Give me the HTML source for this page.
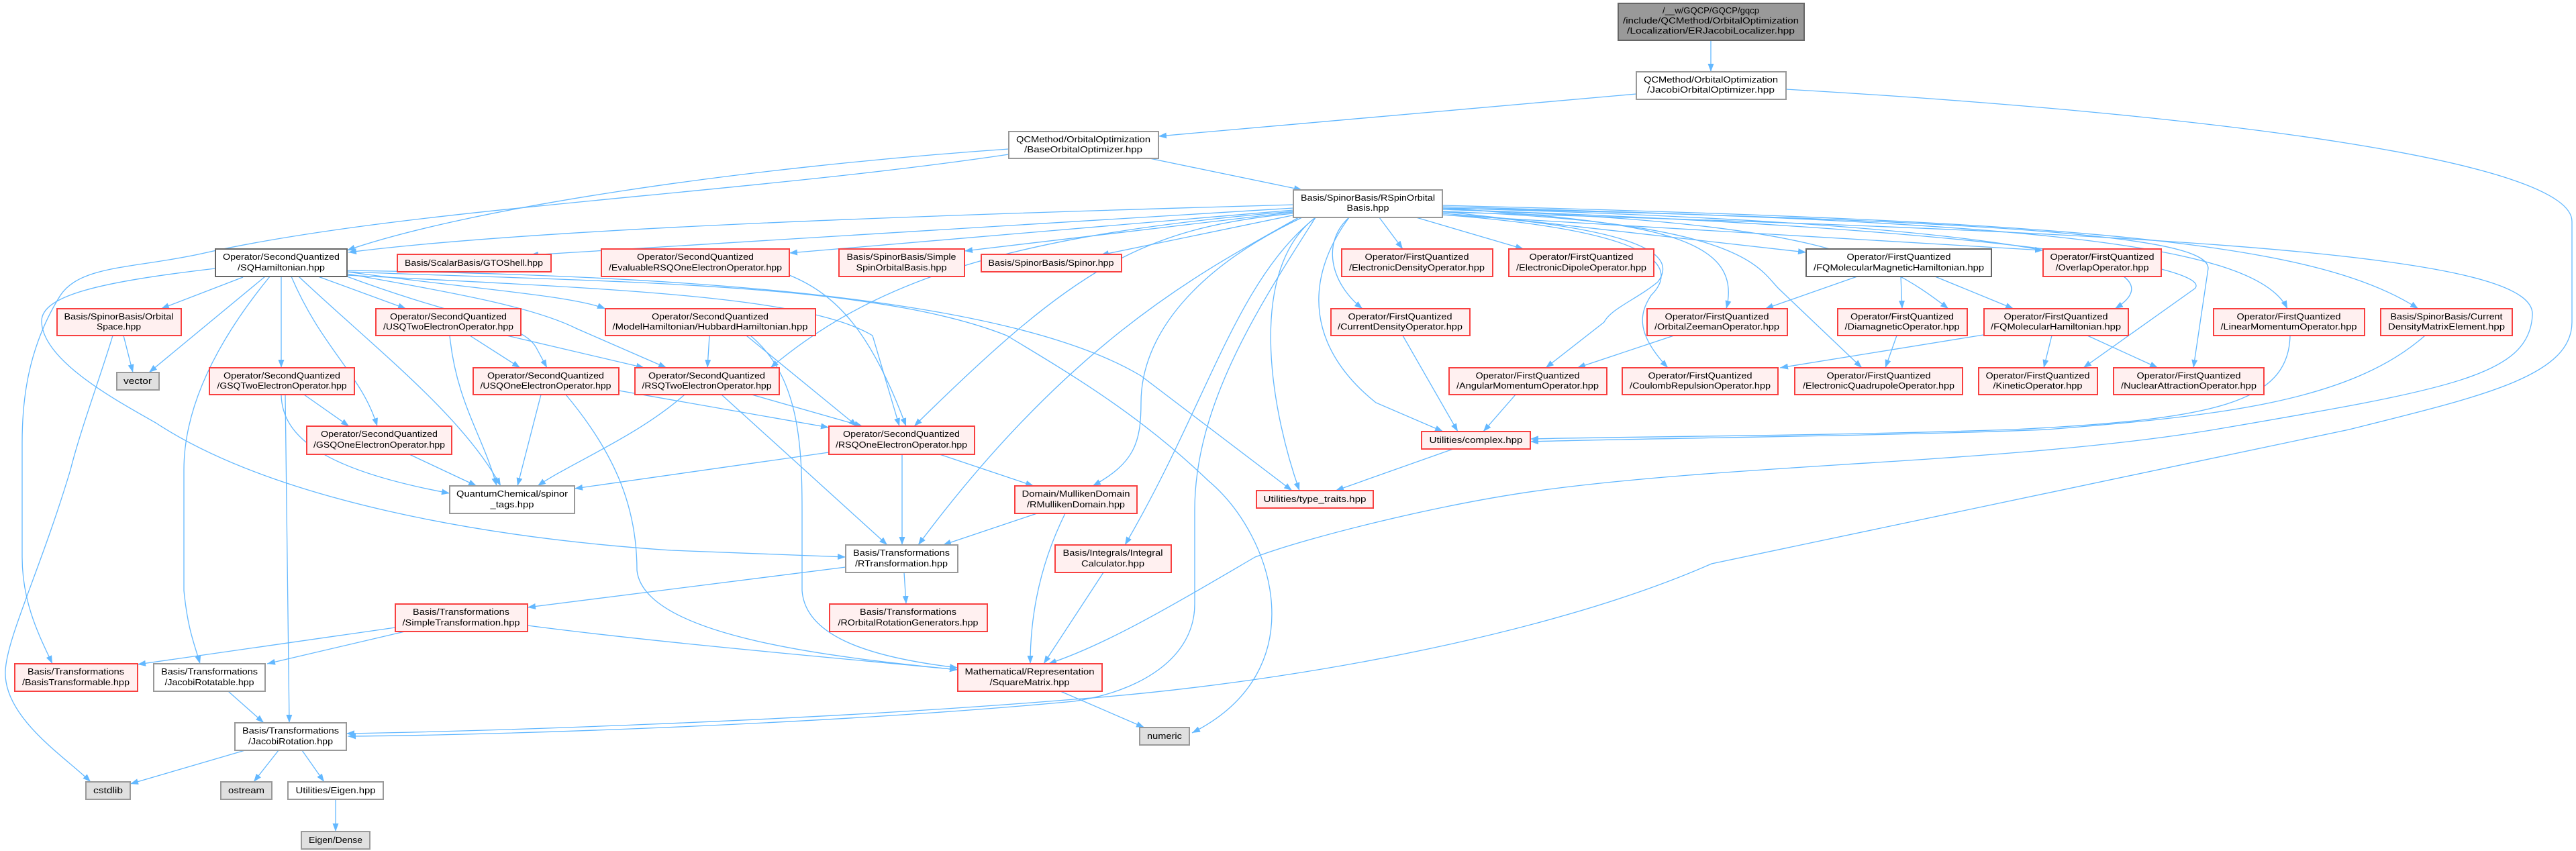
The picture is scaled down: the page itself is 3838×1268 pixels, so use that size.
<!DOCTYPE html>
<html><head><meta charset="utf-8"><style>
html,body{margin:0;padding:0;background:#fff;}
svg{display:block;}
text{font-family:"Liberation Sans",sans-serif;font-size:12.5px;fill:#000;text-anchor:middle;}
.e{fill:none;stroke:#63b8ff;stroke-width:1.3;marker-end:url(#a);}
.r{fill:#fff0f0;stroke:#f84040;stroke-width:2;}
.w{fill:#fff;stroke:#999;stroke-width:2;}
.g{fill:#fff;stroke:#666;stroke-width:2;}
.t{fill:#999;stroke:#666;stroke-width:2;}
.l{fill:#e0e0e0;stroke:#999;stroke-width:2;}
</style></head><body>
<svg width="3838" height="1268" viewBox="0 0 3838 1268" xmlns="http://www.w3.org/2000/svg">
<defs><marker id="a" markerUnits="userSpaceOnUse" markerWidth="13" markerHeight="10" refX="12" refY="4.5" orient="auto"><path d="M0,0 L12,4.5 L0,9 z" fill="#63b8ff"/></marker></defs>
<g>
<path class="e" d="M2549,60 L2549,107"/>
<path class="e" d="M2438,140 L1726,203"/>
<path class="e" d="M2661,133 C3300,170 3832,240 3832,330 L3832,480 C3832,560 3700,590 3500,640 L2550,840 C2300,950 1900,1020 1600,1042 C1200,1075 700,1090 516,1093"/>
<path class="e" d="M1713,236 L1940,283"/>
<path class="e" d="M1503,222 C1100,250 700,310 517,373"/>
<path class="e" d="M1503,230 C1100,290 600,310 300,378 C200,400 120,395 90,440 C40,520 33,600 33,660 L33,830 C33,900 60,950 78,989"/>
<path class="e" d="M1927,305 C1400,320 800,340 519,376"/>
<path class="e" d="M1927,310 L790,380"/>
<path class="e" d="M1927,313 L1176,377"/>
<path class="e" d="M1927,316 L1437,374"/>
<path class="e" d="M1930,320 L1640,380"/>
<path class="e" d="M2055,324 L2090,371"/>
<path class="e" d="M2110,324 L2270,371"/>
<path class="e" d="M2010,324 C1970,360 1980,420 2030,460"/>
<path class="e" d="M2149,315 L2691,376"/>
<path class="e" d="M2149,320 L3044,373"/>
<path class="e" d="M2149,310 C2450,330 2600,350 2572,460"/>
<path class="e" d="M2149,312 C2700,330 2800,380 2903,460"/>
<path class="e" d="M2149,310 C2900,330 3280,380 3151,460"/>
<path class="e" d="M2149,308 C3000,330 3360,360 3408,460"/>
<path class="e" d="M2149,306 C3100,330 3450,360 3603,460"/>
<path class="e" d="M2149,318 C2450,340 2500,380 2470,420 C2440,445 2400,460 2390,480 L2303,548"/>
<path class="e" d="M2149,320 C2480,345 2500,400 2460,440 C2440,470 2440,500 2485,548"/>
<path class="e" d="M2149,315 C2600,330 2620,400 2650,430 L2774,548"/>
<path class="e" d="M2149,312 C3000,340 3300,400 3270,430 L3104,548"/>
<path class="e" d="M2149,310 C3100,330 3290,360 3290,400 L3268,548"/>
<path class="e" d="M2010,324 C1940,420 1950,520 2050,600 L2150,643"/>
<path class="e" d="M1960,324 C1860,400 1890,600 1936,731"/>
<path class="e" d="M1940,324 C1780,400 1700,500 1700,600 C1700,660 1690,690 1628,724"/>
<path class="e" d="M1960,324 C1840,420 1800,600 1676,812"/>
<path class="e" d="M1935,324 C1800,400 1600,500 1368,812"/>
<path class="e" d="M1927,318 C1700,340 1600,400 1362,635"/>
<path class="e" d="M1927,315 C1500,350 1300,420 1148,548"/>
<path class="e" d="M2149,316 C3400,350 3780,390 3773,470 C3768,560 3650,580 3300,640 C3000,690 2600,690 2300,730 C2150,750 1950,800 1870,830 C1750,900 1650,960 1562,989"/>
<path class="e" d="M1960,324 C1880,450 1780,600 1780,760 L1780,900 C1780,980 1700,1030 1600,1045 C1200,1082 700,1096 518,1097"/>
<path class="e" d="M517,405 C900,420 1300,420 1500,500 C1600,560 1700,620 1800,716 C1900,800 1960,1000 1776,1092"/>
<path class="e" d="M362,413 L240,460"/>
<path class="e" d="M395,412 L222,555"/>
<path class="e" d="M419,412 L419,548"/>
<path class="e" d="M434,412 C480,520 540,560 562,635"/>
<path class="e" d="M445,412 C560,520 690,620 746,724"/>
<path class="e" d="M402,412 C330,500 274,600 274,700 L274,880 C280,940 290,960 298,989"/>
<path class="e" d="M321,400 C150,420 60,440 62,480 C65,540 180,600 232,630 C400,740 700,800 1000,820 L1260,830"/>
<path class="e" d="M474,412 L605,460"/>
<path class="e" d="M517,405 C700,430 850,440 902,460"/>
<path class="e" d="M517,408 C700,440 800,460 860,490 L993,548"/>
<path class="e" d="M517,410 C900,430 1200,440 1300,500 L1340,635"/>
<path class="e" d="M517,403 C1000,410 1500,440 1700,560 L1925,731"/>
<path class="e" d="M517,412 C700,480 780,480 800,520 L815,548"/>
<path class="e" d="M700,500 L775,548"/>
<path class="e" d="M755,500 L960,548"/>
<path class="e" d="M670,500 C680,600 720,650 740,724"/>
<path class="e" d="M922,582 L1235,637"/>
<path class="e" d="M806,588 L771,724"/>
<path class="e" d="M843,588 C920,680 949,760 949,850 C960,950 1250,980 1427,998"/>
<path class="e" d="M1120,588 L1285,635"/>
<path class="e" d="M1020,588 C950,650 850,690 801,724"/>
<path class="e" d="M1075,588 L1322,812"/>
<path class="e" d="M1057,500 L1054,548"/>
<path class="e" d="M1112,500 L1277,635"/>
<path class="e" d="M1118,500 C1190,560 1195,660 1195,760 L1195,880 C1200,950 1300,980 1427,995"/>
<path class="e" d="M1176,410 C1250,440 1300,500 1350,635"/>
<path class="e" d="M1344,677 L1344,812"/>
<path class="e" d="M1400,677 L1540,724"/>
<path class="e" d="M1235,674 L856,728"/>
<path class="e" d="M1545,765 L1405,812"/>
<path class="e" d="M1587,765 C1545,850 1535,930 1535,989"/>
<path class="e" d="M1644,853 L1555,989"/>
<path class="e" d="M1260,845 L786,905"/>
<path class="e" d="M1347,853 L1350,900"/>
<path class="e" d="M589,935 L205,990"/>
<path class="e" d="M603,941 L398,989"/>
<path class="e" d="M786,932 C1000,960 1300,985 1427,998"/>
<path class="e" d="M340,1030 L393,1077"/>
<path class="e" d="M365,1118 L194,1168"/>
<path class="e" d="M415,1118 L378,1165"/>
<path class="e" d="M450,1118 L483,1165"/>
<path class="e" d="M500,1191 L500,1239"/>
<path class="e" d="M1580,1030 L1705,1084"/>
<path class="e" d="M2165,669 L1990,731"/>
<path class="e" d="M2090,500 L2172,643"/>
<path class="e" d="M2258,588 L2210,643"/>
<path class="e" d="M2494,500 L2350,548"/>
<path class="e" d="M2767,412 L2630,460"/>
<path class="e" d="M2832,412 L2834,460"/>
<path class="e" d="M2883,412 L3000,460"/>
<path class="e" d="M2826,500 L2809,548"/>
<path class="e" d="M2955,499 L2652,548"/>
<path class="e" d="M3057,500 L3045,548"/>
<path class="e" d="M3110,500 L3215,548"/>
<path class="e" d="M3412,500 C3410,600 3300,625 3000,640 C2700,650 2450,650 2280,654"/>
<path class="e" d="M3613,500 C3500,600 3300,620 3050,640 C2800,650 2500,652 2280,658"/>
<path class="e" d="M184,500 L198,555"/>
<path class="e" d="M168,500 C150,560 120,640 105,700 C60,850 10,950 8,1000 C5,1070 100,1130 135,1165"/>
<path class="e" d="M453,588 L520,635"/>
<path class="e" d="M419,588 C420,650 480,700 670,735"/>
<path class="e" d="M425,588 L431,1077"/>
<path class="e" d="M610,677 L710,724"/>
</g>
<g>
<rect class="t" x="2411" y="5" width="277" height="55"/>
<text x="2549" y="20" textLength="144" lengthAdjust="spacingAndGlyphs">/__w/GQCP/GQCP/gqcp</text>
<text x="2549" y="35" textLength="262" lengthAdjust="spacingAndGlyphs">/include/QCMethod/OrbitalOptimization</text>
<text x="2549" y="50" textLength="250" lengthAdjust="spacingAndGlyphs">/Localization/ERJacobiLocalizer.hpp</text>

<rect class="w" x="2438" y="107" width="223" height="41"/>
<text x="2549" y="123" textLength="200" lengthAdjust="spacingAndGlyphs">QCMethod/OrbitalOptimization</text>
<text x="2549" y="138" textLength="190" lengthAdjust="spacingAndGlyphs">/JacobiOrbitalOptimizer.hpp</text>

<rect class="w" x="1503" y="196" width="223" height="40"/>
<text x="1614" y="212" textLength="200" lengthAdjust="spacingAndGlyphs">QCMethod/OrbitalOptimization</text>
<text x="1614" y="227" textLength="176" lengthAdjust="spacingAndGlyphs">/BaseOrbitalOptimizer.hpp</text>

<rect class="w" x="1927" y="283" width="222" height="41"/>
<text x="2038" y="299" textLength="200" lengthAdjust="spacingAndGlyphs">Basis/SpinorBasis/RSpinOrbital</text>
<text x="2038" y="314" textLength="63" lengthAdjust="spacingAndGlyphs">Basis.hpp</text>

<rect class="g" x="321" y="371" width="196" height="41"/>
<text x="419" y="387" textLength="174" lengthAdjust="spacingAndGlyphs">Operator/SecondQuantized</text>
<text x="419" y="403" textLength="130" lengthAdjust="spacingAndGlyphs">/SQHamiltonian.hpp</text>

<rect class="r" x="592" y="379" width="229" height="26"/>
<text x="706" y="396" textLength="206" lengthAdjust="spacingAndGlyphs">Basis/ScalarBasis/GTOShell.hpp</text>

<rect class="r" x="896" y="371" width="280" height="41"/>
<text x="1036" y="387" textLength="174" lengthAdjust="spacingAndGlyphs">Operator/SecondQuantized</text>
<text x="1036" y="403" textLength="258" lengthAdjust="spacingAndGlyphs">/EvaluableRSQOneElectronOperator.hpp</text>

<rect class="r" x="1250" y="371" width="187" height="41"/>
<text x="1343" y="387" textLength="163" lengthAdjust="spacingAndGlyphs">Basis/SpinorBasis/Simple</text>
<text x="1343" y="403" textLength="135" lengthAdjust="spacingAndGlyphs">SpinOrbitalBasis.hpp</text>

<rect class="r" x="1462" y="379" width="209" height="26"/>
<text x="1566" y="396" textLength="187" lengthAdjust="spacingAndGlyphs">Basis/SpinorBasis/Spinor.hpp</text>

<rect class="r" x="1999" y="371" width="225" height="41"/>
<text x="2111" y="387" textLength="155" lengthAdjust="spacingAndGlyphs">Operator/FirstQuantized</text>
<text x="2111" y="403" textLength="202" lengthAdjust="spacingAndGlyphs">/ElectronicDensityOperator.hpp</text>

<rect class="r" x="2248" y="371" width="216" height="41"/>
<text x="2356" y="387" textLength="155" lengthAdjust="spacingAndGlyphs">Operator/FirstQuantized</text>
<text x="2356" y="403" textLength="194" lengthAdjust="spacingAndGlyphs">/ElectronicDipoleOperator.hpp</text>

<rect class="g" x="2691" y="371" width="276" height="41"/>
<text x="2829" y="387" textLength="155" lengthAdjust="spacingAndGlyphs">Operator/FirstQuantized</text>
<text x="2829" y="403" textLength="254" lengthAdjust="spacingAndGlyphs">/FQMolecularMagneticHamiltonian.hpp</text>

<rect class="r" x="3044" y="371" width="176" height="41"/>
<text x="3132" y="387" textLength="155" lengthAdjust="spacingAndGlyphs">Operator/FirstQuantized</text>
<text x="3132" y="403" textLength="139" lengthAdjust="spacingAndGlyphs">/OverlapOperator.hpp</text>

<rect class="r" x="85" y="460" width="185" height="40"/>
<text x="177" y="476" textLength="163" lengthAdjust="spacingAndGlyphs">Basis/SpinorBasis/Orbital</text>
<text x="177" y="491" textLength="66" lengthAdjust="spacingAndGlyphs">Space.hpp</text>

<rect class="r" x="560" y="460" width="216" height="40"/>
<text x="668" y="476" textLength="174" lengthAdjust="spacingAndGlyphs">Operator/SecondQuantized</text>
<text x="668" y="491" textLength="194" lengthAdjust="spacingAndGlyphs">/USQTwoElectronOperator.hpp</text>

<rect class="r" x="902" y="460" width="313" height="40"/>
<text x="1058" y="476" textLength="174" lengthAdjust="spacingAndGlyphs">Operator/SecondQuantized</text>
<text x="1058" y="491" textLength="291" lengthAdjust="spacingAndGlyphs">/ModelHamiltonian/HubbardHamiltonian.hpp</text>

<rect class="r" x="1983" y="460" width="207" height="40"/>
<text x="2086" y="476" textLength="155" lengthAdjust="spacingAndGlyphs">Operator/FirstQuantized</text>
<text x="2086" y="491" textLength="186" lengthAdjust="spacingAndGlyphs">/CurrentDensityOperator.hpp</text>

<rect class="r" x="2454" y="460" width="209" height="40"/>
<text x="2558" y="476" textLength="155" lengthAdjust="spacingAndGlyphs">Operator/FirstQuantized</text>
<text x="2558" y="491" textLength="186" lengthAdjust="spacingAndGlyphs">/OrbitalZeemanOperator.hpp</text>

<rect class="r" x="2738" y="460" width="193" height="40"/>
<text x="2834" y="476" textLength="154" lengthAdjust="spacingAndGlyphs">Operator/FirstQuantized</text>
<text x="2834" y="491" textLength="171" lengthAdjust="spacingAndGlyphs">/DiamagneticOperator.hpp</text>

<rect class="r" x="2956" y="460" width="215" height="40"/>
<text x="3063" y="476" textLength="155" lengthAdjust="spacingAndGlyphs">Operator/FirstQuantized</text>
<text x="3063" y="491" textLength="194" lengthAdjust="spacingAndGlyphs">/FQMolecularHamiltonian.hpp</text>

<rect class="r" x="3298" y="460" width="225" height="40"/>
<text x="3410" y="476" textLength="155" lengthAdjust="spacingAndGlyphs">Operator/FirstQuantized</text>
<text x="3410" y="491" textLength="203" lengthAdjust="spacingAndGlyphs">/LinearMomentumOperator.hpp</text>

<rect class="r" x="3547" y="460" width="196" height="40"/>
<text x="3645" y="476" textLength="167" lengthAdjust="spacingAndGlyphs">Basis/SpinorBasis/Current</text>
<text x="3645" y="491" textLength="174" lengthAdjust="spacingAndGlyphs">DensityMatrixElement.hpp</text>

<rect class="l" x="174" y="555" width="63" height="26"/>
<text x="205" y="572" textLength="42" lengthAdjust="spacingAndGlyphs">vector</text>

<rect class="r" x="312" y="548" width="216" height="40"/>
<text x="420" y="564" textLength="174" lengthAdjust="spacingAndGlyphs">Operator/SecondQuantized</text>
<text x="420" y="579" textLength="193" lengthAdjust="spacingAndGlyphs">/GSQTwoElectronOperator.hpp</text>

<rect class="r" x="705" y="548" width="217" height="40"/>
<text x="813" y="564" textLength="174" lengthAdjust="spacingAndGlyphs">Operator/SecondQuantized</text>
<text x="813" y="579" textLength="195" lengthAdjust="spacingAndGlyphs">/USQOneElectronOperator.hpp</text>

<rect class="r" x="946" y="548" width="215" height="40"/>
<text x="1053" y="564" textLength="174" lengthAdjust="spacingAndGlyphs">Operator/SecondQuantized</text>
<text x="1053" y="579" textLength="193" lengthAdjust="spacingAndGlyphs">/RSQTwoElectronOperator.hpp</text>

<rect class="r" x="2159" y="548" width="235" height="40"/>
<text x="2276" y="564" textLength="155" lengthAdjust="spacingAndGlyphs">Operator/FirstQuantized</text>
<text x="2276" y="579" textLength="212" lengthAdjust="spacingAndGlyphs">/AngularMomentumOperator.hpp</text>

<rect class="r" x="2417" y="548" width="232" height="40"/>
<text x="2533" y="564" textLength="155" lengthAdjust="spacingAndGlyphs">Operator/FirstQuantized</text>
<text x="2533" y="579" textLength="210" lengthAdjust="spacingAndGlyphs">/CoulombRepulsionOperator.hpp</text>

<rect class="r" x="2674" y="548" width="250" height="40"/>
<text x="2799" y="564" textLength="155" lengthAdjust="spacingAndGlyphs">Operator/FirstQuantized</text>
<text x="2799" y="579" textLength="226" lengthAdjust="spacingAndGlyphs">/ElectronicQuadrupoleOperator.hpp</text>

<rect class="r" x="2948" y="548" width="177" height="40"/>
<text x="3036" y="564" textLength="155" lengthAdjust="spacingAndGlyphs">Operator/FirstQuantized</text>
<text x="3036" y="579" textLength="133" lengthAdjust="spacingAndGlyphs">/KineticOperator.hpp</text>

<rect class="r" x="3149" y="548" width="224" height="40"/>
<text x="3261" y="564" textLength="155" lengthAdjust="spacingAndGlyphs">Operator/FirstQuantized</text>
<text x="3261" y="579" textLength="202" lengthAdjust="spacingAndGlyphs">/NuclearAttractionOperator.hpp</text>

<rect class="r" x="457" y="635" width="216" height="42"/>
<text x="565" y="651" textLength="174" lengthAdjust="spacingAndGlyphs">Operator/SecondQuantized</text>
<text x="565" y="667" textLength="196" lengthAdjust="spacingAndGlyphs">/GSQOneElectronOperator.hpp</text>

<rect class="r" x="1235" y="635" width="217" height="42"/>
<text x="1343" y="651" textLength="174" lengthAdjust="spacingAndGlyphs">Operator/SecondQuantized</text>
<text x="1343" y="667" textLength="196" lengthAdjust="spacingAndGlyphs">/RSQOneElectronOperator.hpp</text>

<rect class="r" x="2118" y="643" width="162" height="26"/>
<text x="2199" y="660" textLength="139" lengthAdjust="spacingAndGlyphs">Utilities/complex.hpp</text>

<rect class="w" x="670" y="724" width="186" height="41"/>
<text x="763" y="740" textLength="166" lengthAdjust="spacingAndGlyphs">QuantumChemical/spinor</text>
<text x="763" y="756" textLength="65" lengthAdjust="spacingAndGlyphs">_tags.hpp</text>

<rect class="r" x="1512" y="724" width="182" height="41"/>
<text x="1603" y="740" textLength="161" lengthAdjust="spacingAndGlyphs">Domain/MullikenDomain</text>
<text x="1603" y="756" textLength="146" lengthAdjust="spacingAndGlyphs">/RMullikenDomain.hpp</text>

<rect class="r" x="1872" y="731" width="174" height="26"/>
<text x="1959" y="748" textLength="153" lengthAdjust="spacingAndGlyphs">Utilities/type_traits.hpp</text>

<rect class="w" x="1260" y="812" width="167" height="41"/>
<text x="1343" y="828" textLength="144" lengthAdjust="spacingAndGlyphs">Basis/Transformations</text>
<text x="1343" y="844" textLength="138" lengthAdjust="spacingAndGlyphs">/RTransformation.hpp</text>

<rect class="r" x="1572" y="812" width="173" height="41"/>
<text x="1658" y="828" textLength="149" lengthAdjust="spacingAndGlyphs">Basis/Integrals/Integral</text>
<text x="1658" y="844" textLength="94" lengthAdjust="spacingAndGlyphs">Calculator.hpp</text>

<rect class="r" x="589" y="900" width="197" height="41"/>
<text x="687" y="916" textLength="144" lengthAdjust="spacingAndGlyphs">Basis/Transformations</text>
<text x="687" y="932" textLength="175" lengthAdjust="spacingAndGlyphs">/SimpleTransformation.hpp</text>

<rect class="r" x="1236" y="900" width="235" height="41"/>
<text x="1353" y="916" textLength="144" lengthAdjust="spacingAndGlyphs">Basis/Transformations</text>
<text x="1353" y="932" textLength="209" lengthAdjust="spacingAndGlyphs">/ROrbitalRotationGenerators.hpp</text>

<rect class="r" x="22" y="989" width="183" height="41"/>
<text x="113" y="1005" textLength="144" lengthAdjust="spacingAndGlyphs">Basis/Transformations</text>
<text x="113" y="1021" textLength="160" lengthAdjust="spacingAndGlyphs">/BasisTransformable.hpp</text>

<rect class="w" x="229" y="989" width="166" height="41"/>
<text x="312" y="1005" textLength="144" lengthAdjust="spacingAndGlyphs">Basis/Transformations</text>
<text x="312" y="1021" textLength="133" lengthAdjust="spacingAndGlyphs">/JacobiRotatable.hpp</text>

<rect class="r" x="1427" y="989" width="215" height="41"/>
<text x="1534" y="1005" textLength="193" lengthAdjust="spacingAndGlyphs">Mathematical/Representation</text>
<text x="1534" y="1021" textLength="119" lengthAdjust="spacingAndGlyphs">/SquareMatrix.hpp</text>

<rect class="w" x="350" y="1077" width="166" height="41"/>
<text x="433" y="1093" textLength="144" lengthAdjust="spacingAndGlyphs">Basis/Transformations</text>
<text x="433" y="1109" textLength="126" lengthAdjust="spacingAndGlyphs">/JacobiRotation.hpp</text>

<rect class="l" x="1698" y="1084" width="74" height="26"/>
<text x="1735" y="1101" textLength="52" lengthAdjust="spacingAndGlyphs">numeric</text>

<rect class="l" x="128" y="1165" width="66" height="26"/>
<text x="161" y="1182" textLength="44" lengthAdjust="spacingAndGlyphs">cstdlib</text>

<rect class="l" x="329" y="1165" width="76" height="26"/>
<text x="367" y="1182" textLength="54" lengthAdjust="spacingAndGlyphs">ostream</text>

<rect class="w" x="429" y="1165" width="142" height="26"/>
<text x="500" y="1182" textLength="119" lengthAdjust="spacingAndGlyphs">Utilities/Eigen.hpp</text>

<rect class="l" x="449" y="1239" width="102" height="26"/>
<text x="500" y="1256" textLength="80" lengthAdjust="spacingAndGlyphs">Eigen/Dense</text>
</g>
</svg>
</body></html>
